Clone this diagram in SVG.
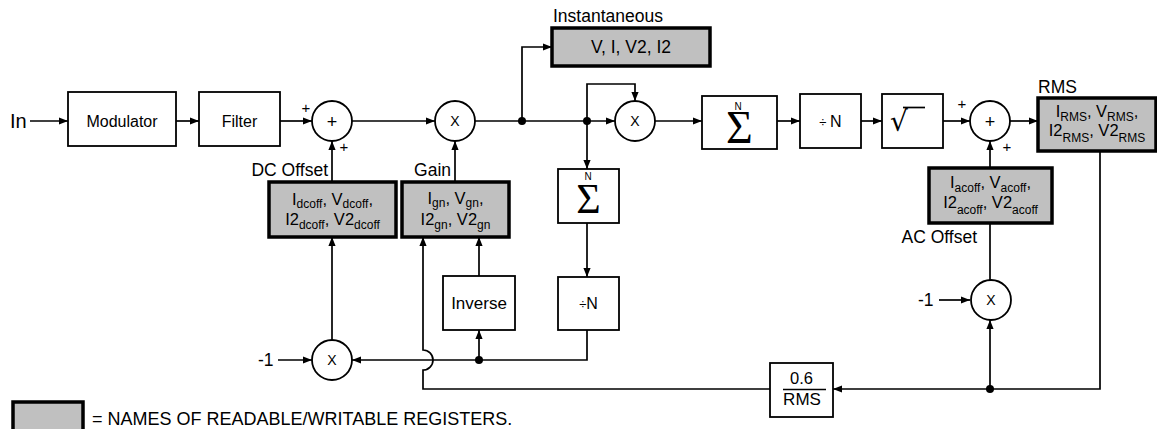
<svg xmlns="http://www.w3.org/2000/svg" width="1157" height="429" viewBox="0 0 1157 429">
<style>
text{font-family:"Liberation Sans",Arial,sans-serif;fill:#000}
.box{fill:#fff;stroke:#000;stroke-width:1.8}
.reg{fill:#c0c0c0;stroke:#000;stroke-width:3.5}
.circ{fill:#fff;stroke:#000;stroke-width:1.8}
.wire{fill:none;stroke:#000;stroke-width:1.7}
.arr{marker-end:url(#ah)}
.t16{font-size:16px}
.lbl{font-size:17.5px}
.reg-t{font-size:16.5px}
.sub{font-size:12px}
.sig{font-family:"Liberation Serif","Times New Roman",serif;font-size:46px}
.n{font-size:10px}
.dot{fill:#000}
</style>
<defs>
<marker id="ah" viewBox="0 0 10 10" refX="10" refY="5" markerWidth="9" markerHeight="9" markerUnits="userSpaceOnUse" orient="auto">
<path d="M0,1 L10,5 L0,9 z" fill="#000"/>
</marker>
</defs>

<g id="connectors">
<path class="wire arr" d="M30,121 H68"/>
<path class="wire arr" d="M176,121 H199"/>
<path class="wire arr" d="M280,121 H312"/>
<path class="wire arr" d="M332,182 V141"/>
<path class="wire arr" d="M352,121 H435"/>
<path class="wire arr" d="M455,182 V141"/>
<path class="wire arr" d="M475,121 H615"/>
<path class="wire arr" d="M522,121 V47 H552"/>
<path class="wire arr" d="M587,121 V84 H635 V101"/>
<path class="wire arr" d="M587,121 V169"/>
<path class="wire arr" d="M655,121 H702"/>
<path class="wire arr" d="M777,121 H800"/>
<path class="wire arr" d="M861,121 H882"/>
<path class="wire arr" d="M943,121 H970"/>
<path class="wire arr" d="M1010,121 H1038"/>
<path class="wire arr" d="M990,168 V141"/>
<path class="wire arr" d="M1100,151 V389 H833"/>
<path class="wire arr" d="M990,389 V320"/>
<path class="wire arr" d="M939,300 H970"/>
<path class="wire" d="M990,280 V223"/>
<path class="wire arr" d="M770,389 H423 V370 A10,10 0 0 0 423,350 V237"/>
<path class="wire arr" d="M587,223 V277"/>
<path class="wire arr" d="M587,330 V360 H352"/>
<path class="wire arr" d="M479,360 V330"/>
<path class="wire arr" d="M479,276 V237"/>
<path class="wire arr" d="M332,340 V237"/>
<path class="wire arr" d="M278,360 H312"/>
<circle class="dot" cx="522" cy="121" r="4"/>
<circle class="dot" cx="587" cy="121" r="4"/>
<circle class="dot" cx="479" cy="360" r="4"/>
<circle class="dot" cx="990" cy="389" r="4"/>
</g>

<g id="in-label"><text class="lbl" x="10" y="128" style="font-size:20px">In</text></g>

<g id="modulator">
<rect class="box" x="68" y="92" width="108" height="54"/>
<text class="t16" x="122" y="127" text-anchor="middle">Modulator</text>
</g>

<g id="filter">
<rect class="box" x="199" y="92" width="81" height="54"/>
<text class="t16" x="239.5" y="127" text-anchor="middle">Filter</text>
</g>

<g id="sum1">
<circle class="circ" cx="332" cy="121" r="20"/>
<text x="332" y="127.5" text-anchor="middle" style="font-size:18px">+</text>
<text x="306" y="112.5" text-anchor="middle" style="font-size:15px">+</text>
<text x="344" y="152" text-anchor="middle" style="font-size:15px">+</text>
</g>

<g id="dc-offset">
<text class="lbl" x="328" y="176" text-anchor="end">DC Offset</text>
<rect class="reg" x="269" y="182" width="127" height="55"/>
<text class="reg-t" x="332.5" y="204.5" text-anchor="middle">I<tspan class="sub" dy="3.5">dcoff</tspan><tspan dy="-3.5">, V</tspan><tspan class="sub" dy="3.5">dcoff</tspan><tspan dy="-3.5">,</tspan></text>
<text class="reg-t" x="332.5" y="225" text-anchor="middle">I2<tspan class="sub" dy="4">dcoff</tspan><tspan dy="-4">, V2</tspan><tspan class="sub" dy="4">dcoff</tspan></text>
</g>

<g id="gain-mult">
<circle class="circ" cx="455" cy="121" r="20"/>
<text x="455" y="126" text-anchor="middle" style="font-size:14px">X</text>
</g>

<g id="gain">
<text class="lbl" x="451" y="176" text-anchor="end">Gain</text>
<rect class="reg" x="402" y="182" width="107" height="55"/>
<text class="reg-t" x="455.5" y="204" text-anchor="middle">I<tspan class="sub" dy="3">gn</tspan><tspan dy="-3">, V</tspan><tspan class="sub" dy="3">gn</tspan><tspan dy="-3">,</tspan></text>
<text class="reg-t" x="455.5" y="224.5" text-anchor="middle">I2<tspan class="sub" dy="4">gn</tspan><tspan dy="-4">, V2</tspan><tspan class="sub" dy="4">gn</tspan></text>
</g>

<g id="instantaneous">
<text class="lbl" x="553" y="22">Instantaneous</text>
<rect class="reg" x="552" y="28" width="158" height="38"/>
<text class="lbl" x="631" y="53" text-anchor="middle">V, I, V2, I2</text>
</g>

<g id="square-mult">
<circle class="circ" cx="635" cy="121" r="20"/>
<text x="635" y="126" text-anchor="middle" style="font-size:14px">X</text>
</g>

<g id="sigma1">
<rect class="box" x="702" y="96" width="75" height="53"/>
<text class="n" x="738" y="109.5" text-anchor="middle">N</text>
<text class="sig" x="739.5" y="143" text-anchor="middle">Σ</text>
</g>

<g id="divn1">
<rect class="box" x="800" y="94" width="61" height="54"/>
<text class="t16" x="830.5" y="127" text-anchor="middle"><tspan style="font-size:13px">÷ </tspan>N</text>
</g>

<g id="sqrt">
<rect class="box" x="882" y="94" width="61" height="54"/>
<text x="899" y="131" text-anchor="middle" style="font-size:28px;font-family:'DejaVu Sans',sans-serif">√</text>
<path class="wire" d="M903,107.5 H925"/>
</g>

<g id="sum2">
<circle class="circ" cx="990" cy="121" r="20"/>
<text x="990" y="127.5" text-anchor="middle" style="font-size:18px">+</text>
<text x="962" y="109" text-anchor="middle" style="font-size:15px">+</text>
<text x="1007" y="151.5" text-anchor="middle" style="font-size:15px">+</text>
</g>

<g id="rms">
<text class="lbl" x="1038" y="93">RMS</text>
<rect class="reg" x="1038" y="98" width="118" height="53"/>
<text class="reg-t" x="1097" y="117" text-anchor="middle">I<tspan class="sub" dy="4">RMS</tspan><tspan dy="-4">, V</tspan><tspan class="sub" dy="4">RMS</tspan><tspan dy="-4">,</tspan></text>
<text class="reg-t" x="1097" y="136" text-anchor="middle">I2<tspan class="sub" dy="6">RMS</tspan><tspan dy="-6">, V2</tspan><tspan class="sub" dy="6">RMS</tspan></text>
</g>

<g id="ac-offset">
<rect class="reg" x="929" y="168" width="123" height="55"/>
<text class="reg-t" x="990.5" y="188" text-anchor="middle">I<tspan class="sub" dy="4">acoff</tspan><tspan dy="-4">, V</tspan><tspan class="sub" dy="4">acoff</tspan><tspan dy="-4">,</tspan></text>
<text class="reg-t" x="990.5" y="208" text-anchor="middle">I2<tspan class="sub" dy="6">acoff</tspan><tspan dy="-6">, V2</tspan><tspan class="sub" dy="6">acoff</tspan></text>
<text class="lbl" x="977" y="243" text-anchor="end">AC Offset</text>
</g>

<g id="ac-neg">
<text class="lbl" x="918" y="306">-1</text>
<circle class="circ" cx="991" cy="300" r="20"/>
<text x="991" y="305" text-anchor="middle" style="font-size:14px">X</text>
</g>

<g id="sigma2">
<rect class="box" x="558" y="169" width="61" height="54"/>
<text class="n" x="588" y="179.5" text-anchor="middle">N</text>
<text class="sig" x="588.5" y="213" text-anchor="middle" style="font-size:42px">Σ</text>
</g>

<g id="divn2">
<rect class="box" x="558" y="277" width="61" height="53"/>
<text class="t16" x="588.5" y="309" text-anchor="middle"><tspan style="font-size:13px">÷</tspan>N</text>
</g>

<g id="inverse">
<rect class="box" x="443" y="276" width="72" height="54"/>
<text class="t16" x="479" y="309" text-anchor="middle" style="font-size:17px">Inverse</text>
</g>

<g id="dc-neg">
<text class="lbl" x="258" y="366">-1</text>
<circle class="circ" cx="332" cy="360" r="20"/>
<text x="332" y="365" text-anchor="middle" style="font-size:14px">X</text>
</g>

<g id="rms-scale">
<rect class="box" x="770" y="363" width="63" height="54"/>
<text class="t16" x="801.5" y="384" text-anchor="middle" style="font-size:16.5px">0.6</text>
<path class="wire" d="M783,389.5 H826" style="stroke-width:1.3"/>
<text class="t16" x="802" y="405" text-anchor="middle" style="font-size:17px">RMS</text>
</g>

<g id="legend">
<rect class="reg" x="13" y="402" width="70" height="32"/>
<text x="92" y="425" style="font-size:18px">= NAMES OF READABLE/WRITABLE REGISTERS.</text>
</g>
</svg>
